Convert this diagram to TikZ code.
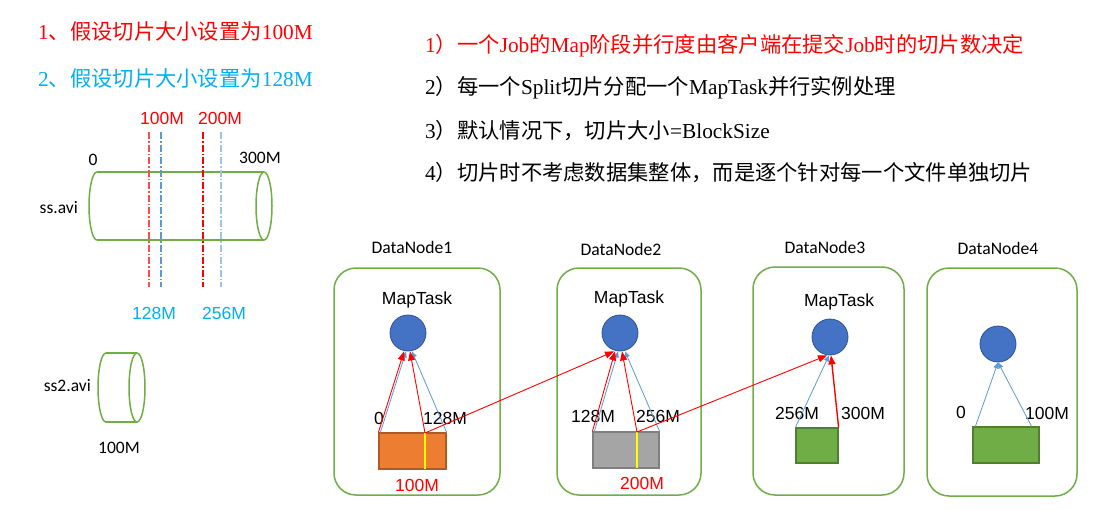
\documentclass[tikz,border=0pt]{standalone}
\usepackage{fontspec}
\setmainfont{Liberation Serif}
\newfontfamily\cjk{Noto Sans CJK SC}
\newfontfamily\arialf{Liberation Sans}
\newfontfamily\calf{Carlito}
\usetikzlibrary{arrows.meta,calc}
\definecolor{ored}{HTML}{FF0000}
\definecolor{ocyan}{HTML}{00B0F0}
\definecolor{ogreen}{HTML}{70AD47}
\definecolor{ogreenD}{HTML}{507E32}
\definecolor{oorange}{HTML}{ED7D31}
\definecolor{oorangeD}{HTML}{AE5A21}
\definecolor{ogray}{HTML}{A5A5A5}
\definecolor{ograyD}{HTML}{7F7F7F}
\definecolor{oblue}{HTML}{4472C4}
\definecolor{oblueD}{HTML}{2F528F}
\definecolor{lblue}{HTML}{5B9BD5}
\definecolor{ltblue}{HTML}{9DC3E6}
\definecolor{yel}{HTML}{FFFF00}
\begin{document}
\begin{tikzpicture}[x=1pt,y=-1pt,
  dnbox/.style={draw=ogreen,line width=1.5pt,rounded corners=22pt,inner sep=0pt},
  task/.style={circle,fill=oblue,draw=oblueD,line width=0.8pt,minimum size=36pt,inner sep=0pt},
  blk/.style={draw,line width=1.2pt,inner sep=0pt},
  lab/.style={font=\arialf\fontsize{17.5}{20}\selectfont,inner sep=0pt},
  dnlab/.style={font=\calf\fontsize{17.6}{20}\selectfont,inner sep=0pt},
  blab/.style={font=\calf\fontsize{17.5}{20}\selectfont,inner sep=0pt},
  bigtxt/.style={anchor=west,inner sep=0pt,font=\fontsize{21.3}{25}\selectfont},
  redarr/.style={ored,line width=0.9pt,-{Triangle[length=9pt,width=7pt]}},
  bluearr/.style={lblue,line width=0.8pt,-{Triangle[length=6pt,width=5pt]}},
  cyl/.style={draw=ogreen,line width=1.5pt},
  cutline/.style={line width=1.2pt,dash pattern=on 7pt off 2pt on 1.5pt off 2pt},
  yline/.style={yel,line width=2.5pt}
]
\useasboundingbox[fill=white] (0,0) rectangle (1107,509);

% left titles
\node[bigtxt,text=ored] (t1) at (38,31) {1{\cjk 、假设切片大小设置为}100M};
\node[bigtxt,text=ocyan] (t2) at (38,78) {2{\cjk 、假设切片大小设置为}128M};

% right text
\node[bigtxt,text=ored] (r1t) at (425,46) {1{\cjk ）一个}Job{\cjk 的}Map{\cjk 阶段并行度由客户端在提交}Job{\cjk 时的切片数决定}};
\node[bigtxt] (r2t) at (425,88) {2{\cjk ）每一个}Split{\cjk 切片分配一个}MapTask{\cjk 并行实例处理}};
\node[bigtxt] (r3t) at (425,131) {3{\cjk ）默认情况下，切片大小}=BlockSize};
\node[bigtxt] (r4t) at (425,173) {4{\cjk ）切片时不考虑数据集整体，而是逐个针对每一个文件单独切片}};

% ss.avi cylinder
\draw[cyl] (97,172) -- (264,172);
\draw[cyl] (97,240) -- (264,240);
\draw[cyl] (97,240) arc[start angle=270,end angle=90,x radius=8pt,y radius=34pt];
\draw[cyl] (264,206) ellipse [x radius=8pt,y radius=34pt];
\node[blab] (z0) at (93,160) {0};
\node[blab] (z300) at (260,158) {300M};
\node[blab,anchor=east] (ssavi) at (78,208) {ss.avi};

% cut lines
\draw[cutline,ored!70] (149,132) -- (149,287);
\draw[cutline,lblue] (161,132) -- (161,287);
\draw[cutline,ored] (203,132) -- (203,287);
\draw[cutline,ltblue] (221,132) -- (221,287);
\node[lab,text=ored] (m100) at (162,118) {100M};
\node[lab,text=ored] (m200) at (220,118) {200M};
\node[lab,text=ocyan] (m128) at (154,313) {128M};
\node[lab,text=ocyan] (m256) at (224,313) {256M};

% ss2.avi cylinder
\draw[cyl] (106,353) -- (137,353);
\draw[cyl] (106,422) -- (137,422);
\draw[cyl] (106,422) arc[start angle=270,end angle=90,x radius=8pt,y radius=34.5pt];
\draw[cyl] (137,387.5) ellipse [x radius=8pt,y radius=34.5pt];
\node[blab,anchor=east] (ss2avi) at (91,386) {ss2.avi};
\node[blab] (s2size) at (119,448) {100M};

% DataNode boxes
\node[dnbox,minimum width=166pt,minimum height=227pt] (dn1) at (417,381.5) {};
\node[dnbox,minimum width=144pt,minimum height=227pt] (dn2) at (629,381.5) {};
\node[dnbox,minimum width=151pt,minimum height=228pt] (dn3) at (828.5,381) {};
\node[dnbox,minimum width=150pt,minimum height=228pt] (dn4) at (1002,382) {};
\node[dnlab] (dl1) at (412,247) {DataNode1};
\node[dnlab] (dl2) at (621,249) {DataNode2};
\node[dnlab] (dl3) at (825,247) {DataNode3};
\node[dnlab] (dl4) at (998,248) {DataNode4};

\node[lab] (mt1) at (417,300) {MapTask};
\node[lab] (mt2) at (629,299) {MapTask};
\node[lab] (mt3) at (839,302) {MapTask};

\node[task] (c1) at (408,333) {};
\node[task] (c2) at (620,333) {};
\node[task] (c3) at (830,337) {};
\node[task] (c4) at (998,344) {};

% blocks
\node[blk,fill=oorange,draw=oorangeD,minimum width=67pt,minimum height=36pt] (b1) at (412.5,451) {};
\node[blk,fill=ogray,draw=ograyD,minimum width=66pt,minimum height=36pt] (b2) at (626,450) {};
\node[blk,fill=ogreen,draw=ogreenD,minimum width=42pt,minimum height=35pt] (b3) at (817,445.5) {};
\node[blk,fill=ogreen,draw=ogreenD,minimum width=66pt,minimum height=36pt] (b4) at (1006,445) {};

\coordinate (y1t) at (425,433);
\coordinate (y1b) at (425,469);
\coordinate (y2t) at (637,432);
\coordinate (y2b) at (637,468);
\draw[yline] (y1t) -- (y1b);
\draw[yline] (y2t) -- (y2b);

% labels at blocks
\node[lab] (l10) at (379,418) {0};
\node[lab] (l1e) at (445,418) {128M};
\node[lab,text=ored] (l1s) at (417,485) {100M};
\node[lab] (l20) at (593,416) {128M};
\node[lab] (l2e) at (658,416) {256M};
\node[lab,text=ored] (l2s) at (642,483) {200M};
\node[lab] (l30) at (797,413) {256M};
\node[lab] (l3e) at (863,413) {300M};
\node[lab] (l40) at (961,412) {0};
\node[lab] (l4e) at (1047,413) {100M};

% arrows DN1
\draw[bluearr] ($(b1.north west)+(2,0)$) -- ($(c1.south)+(-2,0)$);
\draw[bluearr] (b1.north east) -- ($(c1.south)+(4,0)$);
\draw[redarr] (b1.north west) -- ($(c1.south)+(-4,0)$);
\draw[redarr] (y1t) -- ($(c1.south)+(2,0)$);
\draw[redarr] (y1t) -- ($(c2.south)+(-6,0)$);
% arrows DN2
\draw[bluearr] ($(b2.north west)+(2,0)$) -- ($(c2.south)+(-2,0)$);
\draw[bluearr] (b2.north east) -- ($(c2.south)+(5,0)$);
\draw[redarr] (b2.north west) -- ($(c2.south)+(-5,0)$);
\draw[redarr] (y2t) -- ($(c2.south)+(2,0)$);
\draw[redarr] (y2t) -- ($(c3.south)+(-3,0)$);
% arrows DN3
\draw[bluearr] (b3.north west) -- ($(c3.south)+(-1,0)$);
\draw[redarr,line width=1.4pt] (b3.north east) -- ($(c3.south)+(1,0)$);
% arrows DN4
\draw[bluearr] ($(b4.north west)+(3,0)$) -- (c4.south);
\draw[bluearr] ($(b4.north east)+(-8,0)$) -- (c4.south);
\end{tikzpicture}
\end{document}
